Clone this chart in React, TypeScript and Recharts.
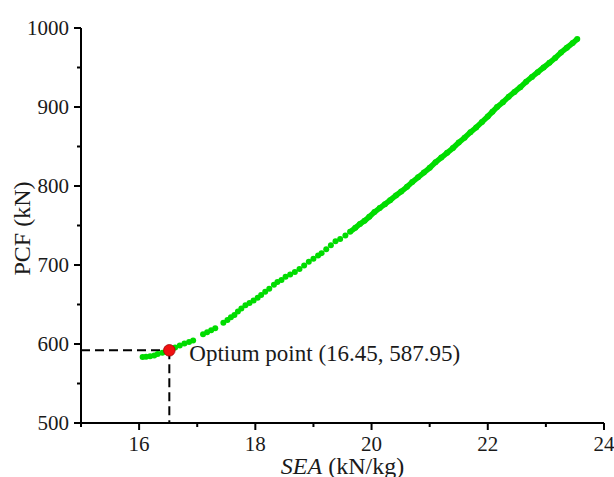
import React from "react";
import {
  ScatterChart,
  Scatter,
  XAxis,
  YAxis,
  ReferenceLine,
} from "recharts";

// lower part of the front: loose dots
const sparseX = [16.06, 16.12, 16.19, 16.26, 16.32, 16.4, 16.62, 16.7, 16.78, 16.86, 16.93, 17.1, 17.17, 17.24, 17.31, 17.45, 17.52, 17.58, 17.64, 17.7, 17.76, 17.83, 17.9, 17.97, 18.04, 18.1, 18.17, 18.24, 18.32, 18.38, 18.45, 18.52, 18.6, 18.68, 18.76, 18.84, 18.92, 19.0, 19.08, 19.14, 19.22, 19.3, 19.38, 19.46, 19.55];
const sparseY = [583.5, 583.8, 584.5, 585.5, 587.3, 589, 595.5, 598, 600.5, 602.5, 604.5, 612.5, 615, 617.5, 620, 627, 630.5, 634, 636.6, 641, 645, 649, 652, 655, 658.5, 662, 666, 670, 675, 678.5, 681, 685, 688, 691, 695, 699.5, 704, 708, 712, 715, 720, 725, 730, 733, 737.5];

// upper part: dense, reads as a solid band
const denseX = [19.63, 19.72, 19.8, 19.88, 19.96, 20.05, 20.14, 20.23, 20.32, 20.42, 20.51, 20.61, 20.7, 20.8, 20.9, 21.0, 21.1, 21.2, 21.3, 21.4, 21.5, 21.6, 21.7, 21.8, 21.9, 22.0, 22.08, 22.16, 22.26, 22.36, 22.46, 22.56, 22.66, 22.76, 22.86, 22.96, 23.06, 23.16, 23.26, 23.36, 23.46, 23.54];
const denseY = [742, 747, 752, 756, 761, 767, 772, 777, 782, 788, 793, 799, 805, 811, 817, 823, 830, 836, 842, 848, 855, 861, 868, 874, 881, 888, 894, 900, 906, 913, 919, 925, 932, 938, 944, 950, 956, 962, 969, 975, 981, 986];

const optX = 16.52;
const optY = 592;
const optLabel = "Optium point (16.45, 587.95)";

const xTicks = [15, 16, 17, 18, 19, 20, 21, 22, 23, 24];
const yTicks = [500, 550, 600, 650, 700, 750, 800, 850, 900, 950, 1000];

const sparse = sparseX.map((x, i) => ({ x, y: sparseY[i] }));
const dense = denseX.map((x, i) => ({ x, y: denseY[i] }));
const optimum = [{ x: optX, y: optY }];

const FONT = "'Liberation Serif', 'Times New Roman', serif";
const GREEN = "#00dc00";
const INK = "#1a1a1a";

function Dot(props: any) {
  return <circle cx={props.cx} cy={props.cy} r={3} fill={GREEN} />;
}

function RedDot(props: any) {
  return (
    <circle cx={props.cx} cy={props.cy} r={5.8} fill="#f01010" stroke="#a00000" strokeWidth={0.8} />
  );
}

function XTick(props: any) {
  const { x, y, payload } = props;
  const major = payload.value % 2 === 0;
  return (
    <g>
      <line x1={x} y1={y} x2={x} y2={y + (major ? 7 : 4)} stroke="#000" strokeWidth={2} />
      {major && (
        <text x={x} y={y + 28} textAnchor="middle" fontFamily={FONT} fontSize={21} fill={INK}>
          {payload.value}
        </text>
      )}
    </g>
  );
}

function YTick(props: any) {
  const { x, y, payload } = props;
  const major = payload.value % 100 === 0;
  return (
    <g>
      <line x1={x} y1={y} x2={x - (major ? 7 : 4)} y2={y} stroke="#000" strokeWidth={2} />
      {major && (
        <text x={x - 12} y={y + 7} textAnchor="end" fontFamily={FONT} fontSize={21} fill={INK}>
          {payload.value}
        </text>
      )}
    </g>
  );
}

function XTitle(props: any) {
  const vb = props.viewBox;
  return (
    <text x={vb.x + vb.width / 2} y={vb.y + 51} textAnchor="middle" fontFamily={FONT} fontSize={24} fill={INK}>
      <tspan fontStyle="italic">SEA</tspan> (kN/kg)
    </text>
  );
}

function YTitle(props: any) {
  const vb = props.viewBox;
  const cx = 22;
  const cy = vb.y + vb.height / 2 + 3;
  return (
    <text x={cx} y={cy} textAnchor="middle" dominantBaseline="central" fontFamily={FONT} fontSize={24} fill={INK} transform={`rotate(-90 ${cx} ${cy})`}>
      PCF (kN)
    </text>
  );
}

function OptLabel(props: any) {
  const vb = props.viewBox;
  const x = vb.x + (vb.width || 0);
  const y = vb.y;
  return (
    <text x={x + 20} y={y + 11} fontFamily={FONT} fontSize={23} fill={INK}>
      {optLabel}
    </text>
  );
}

export default function App() {
  return (
    <div style={{ position: "absolute", left: 0, top: 0, background: "#fff" }}>
      <ScatterChart width={614} height={477} margin={{ top: 28, right: 10, bottom: 0, left: 0 }}>
        <XAxis
          xAxisId="b"
          dataKey="x"
          type="number"
          domain={[15, 24]}
          ticks={xTicks}
          interval={0}
          tick={<XTick />}
          tickLine={false}
          tickSize={0}
          tickMargin={0}
          height={54}
          axisLine={{ stroke: "#000", strokeWidth: 2 }}
          allowDataOverflow
          label={{ content: (p: any) => <XTitle {...p} /> }}
        />
        <XAxis
          xAxisId="t"
          orientation="top"
          type="number"
          domain={[15, 24]}
          tick={false}
          tickLine={false}
          height={0}
          axisLine={{ stroke: "#000", strokeWidth: 2 }}
        />
        <YAxis
          yAxisId="l"
          dataKey="y"
          type="number"
          domain={[500, 1000]}
          ticks={yTicks}
          interval={0}
          tick={<YTick />}
          tickLine={false}
          tickSize={0}
          tickMargin={0}
          width={81}
          axisLine={{ stroke: "#000", strokeWidth: 2 }}
          allowDataOverflow
          label={{ content: (p: any) => <YTitle {...p} /> }}
        />
        <YAxis
          yAxisId="r"
          orientation="right"
          type="number"
          domain={[500, 1000]}
          tick={false}
          tickLine={false}
          width={0}
          axisLine={{ stroke: "#000", strokeWidth: 2 }}
        />
        <Scatter xAxisId="b" yAxisId="l" data={sparse} shape={<Dot />} isAnimationActive={false} />
        <Scatter
          xAxisId="b"
          yAxisId="l"
          data={dense}
          shape={<Dot />}
          line={{ stroke: GREEN, strokeWidth: 5.5 }}
          lineType="joint"
          isAnimationActive={false}
        />
        <Scatter xAxisId="b" yAxisId="l" data={optimum} shape={<RedDot />} isAnimationActive={false} />
        <ReferenceLine
          xAxisId="b"
          yAxisId="l"
          segment={[{ x: 15, y: optY }, { x: optX, y: optY }]}
          stroke="#000"
          strokeWidth={2}
          strokeDasharray="9 5"
          label={{ content: () => null }}
        />
        <ReferenceLine
          xAxisId="b"
          yAxisId="l"
          segment={[{ x: optX, y: optY }, { x: optX, y: 500 }]}
          stroke="#000"
          strokeWidth={2}
          strokeDasharray="9 5"
          label={{ content: (p: any) => <OptLabel {...p} />, position: "top" }}
        />
      </ScatterChart>
    </div>
  );
}
